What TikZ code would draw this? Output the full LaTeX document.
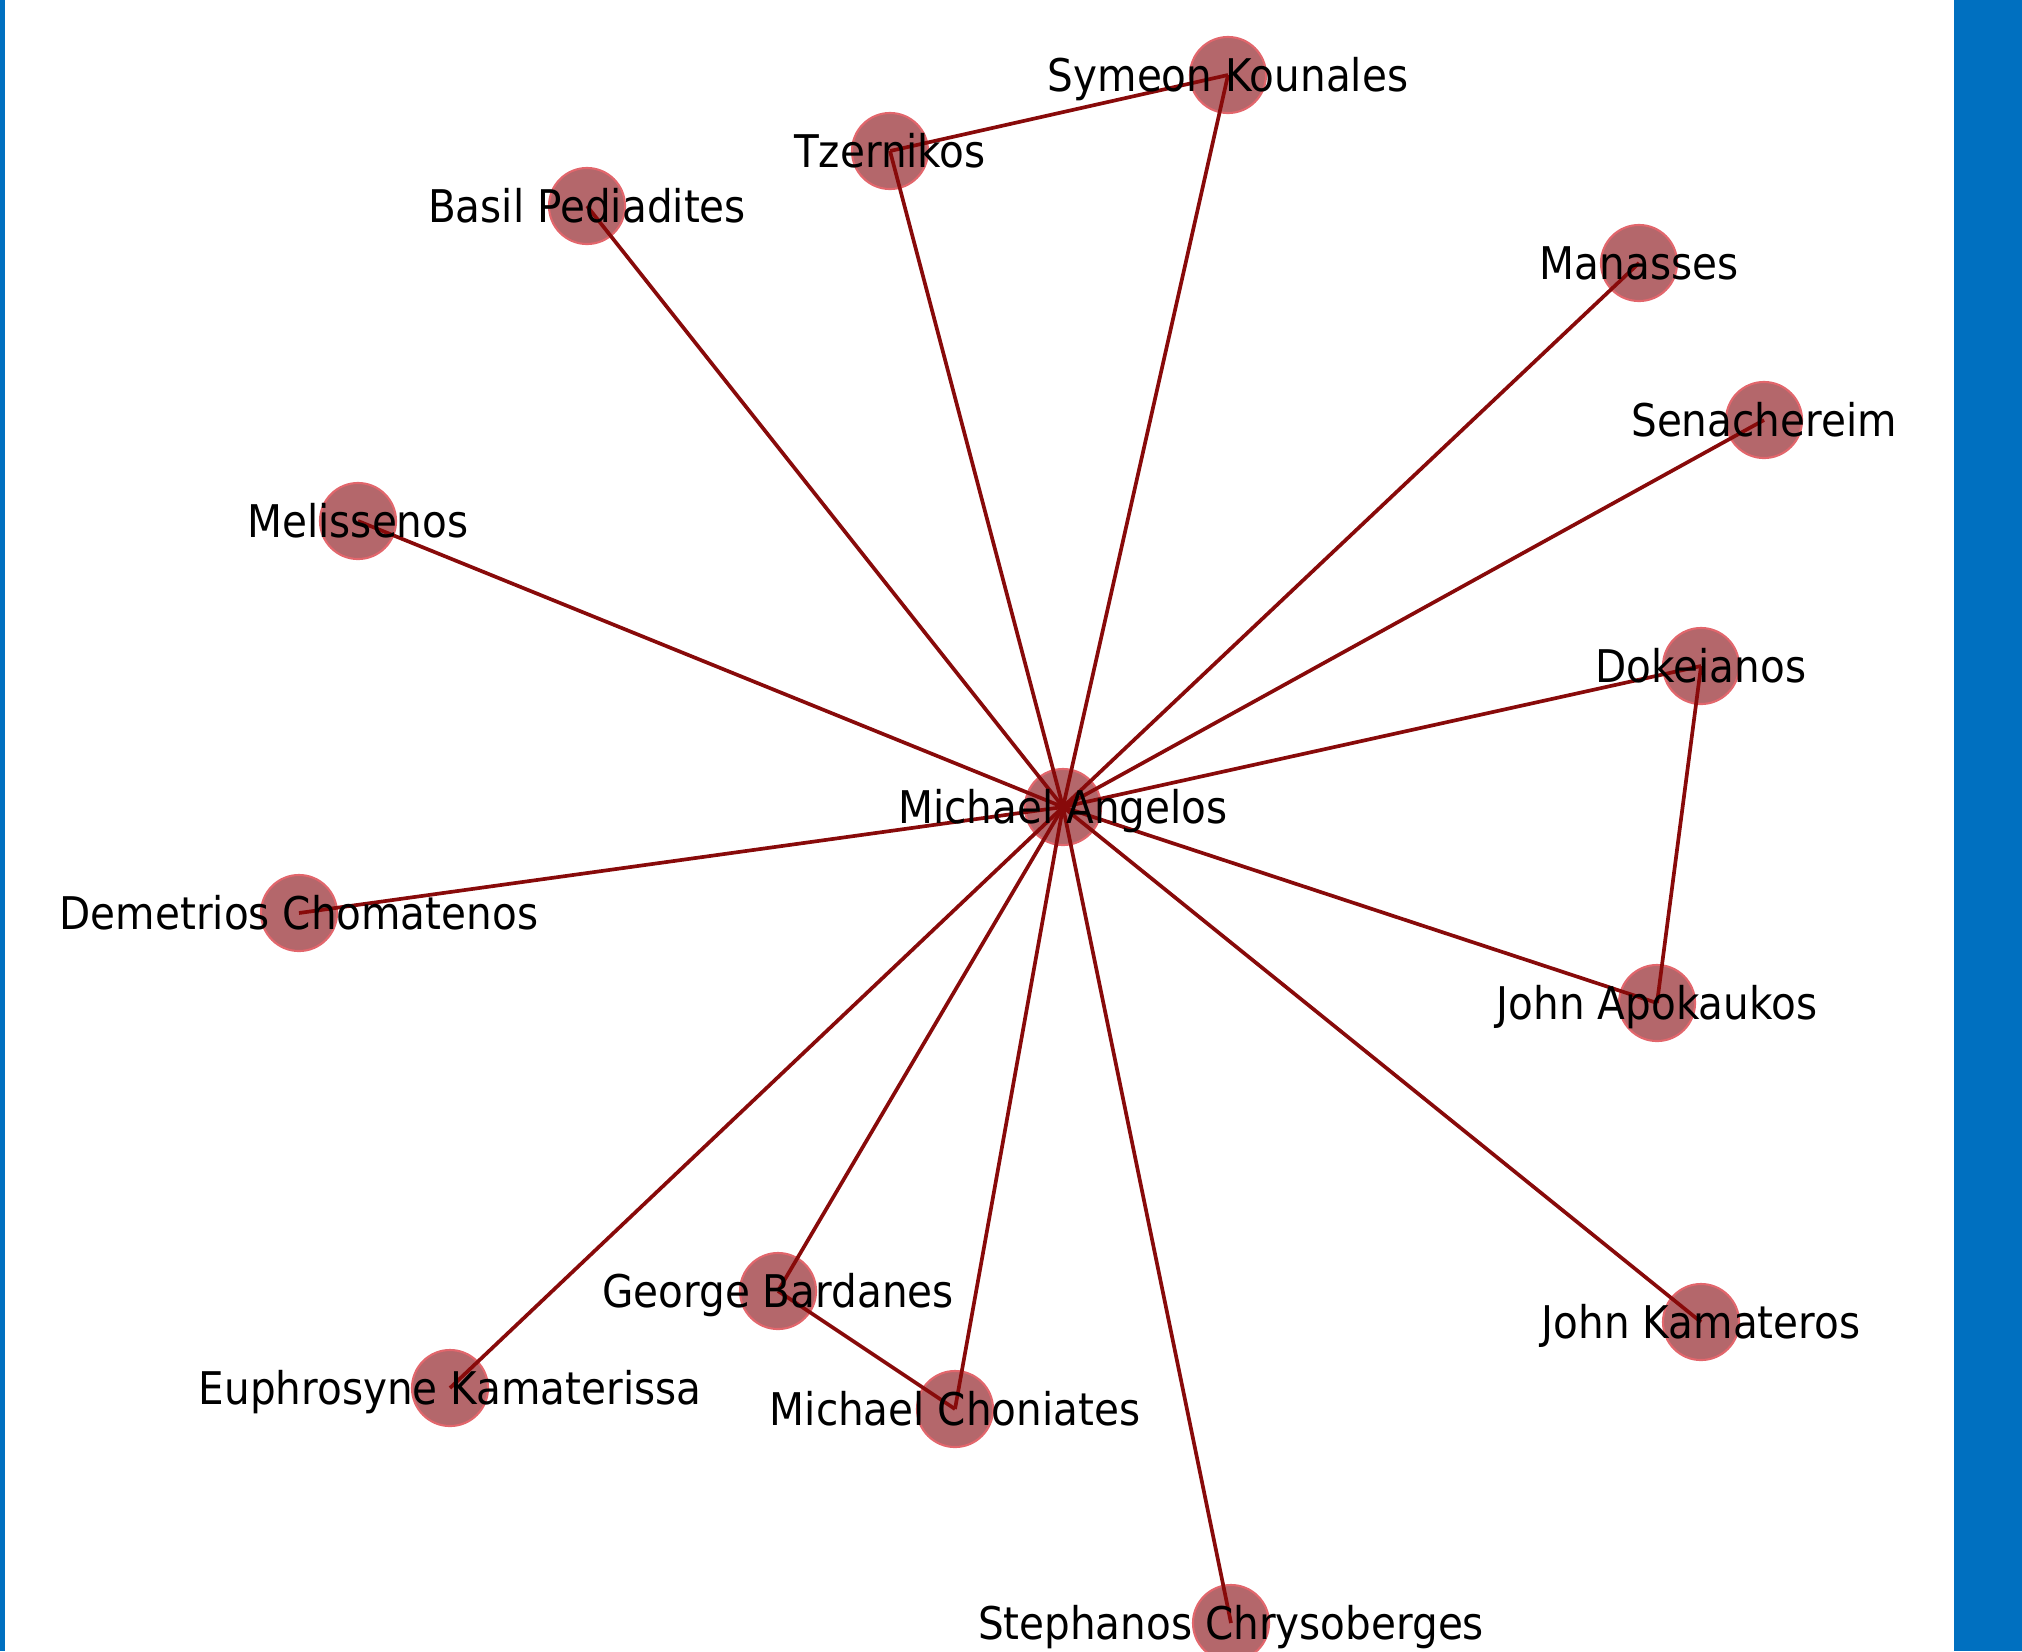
\documentclass[tikz,border=0pt]{standalone}
\usepackage{fontspec}
\setmainfont{DejaVu Sans}[FakeStretch=0.9]
\definecolor{barblue}{HTML}{0070C0}
\definecolor{nodered}{HTML}{B4676B}
\definecolor{rimred}{HTML}{E2666C}
\definecolor{edgered}{HTML}{880A0A}

\begin{document}
\begin{tikzpicture}[x=0.01cm, y=-0.01cm,
  person/.style={circle, fill=nodered, draw=rimred, line width=0.6pt, minimum size=0.76cm, inner sep=0pt},
  who/.style={inner sep=0pt, text height=9.3pt, text depth=0pt, font={\fontsize{12.8}{15}\selectfont}},
  tie/.style={draw=edgered, line width=1.05pt}
]
  \useasboundingbox (0,0) rectangle (2022,1651);
  \fill[barblue] (0,0) rectangle (5,1651);
  \fill[barblue] (1954,0) rectangle (2022,1651);

  \node[person] (angelos) at (1063,807) {};
  \node[person] (kounales) at (1228,75) {};
  \node[person] (tzernikos) at (890,151) {};
  \node[person] (pediadites) at (587,206) {};
  \node[person] (manasses) at (1639,263) {};
  \node[person] (senachereim) at (1764,420) {};
  \node[person] (melissenos) at (358,521) {};
  \node[person] (dokeianos) at (1701,666) {};
  \node[person] (chomatenos) at (299,913) {};
  \node[person] (apokaukos) at (1657,1003) {};
  \node[person] (bardanes) at (778,1291) {};
  \node[person] (kamateros) at (1701,1322) {};
  \node[person] (kamaterissa) at (450,1388) {};
  \node[person] (choniates) at (955,1409) {};
  \node[person] (chrysoberges) at (1231,1623) {};

  \foreach \n in {kounales,tzernikos,pediadites,manasses,senachereim,melissenos,dokeianos,
                  chomatenos,apokaukos,bardanes,kamateros,kamaterissa,choniates,chrysoberges}
    \draw[tie] (angelos.center) -- (\n.center);
  \draw[tie] (tzernikos.center) -- (kounales.center);
  \draw[tie] (dokeianos.center) -- (apokaukos.center);
  \draw[tie] (bardanes.center) -- (choniates.center);

  \node[who] (angelos-t) at (angelos) {Michael Angelos};
  \node[who] (kounales-t) at (kounales) {Symeon Kounales};
  \node[who] (tzernikos-t) at (tzernikos) {Tzernikos};
  \node[who] (pediadites-t) at (pediadites) {Basil Pediadites};
  \node[who] (manasses-t) at (manasses) {Manasses};
  \node[who] (senachereim-t) at (senachereim) {Senachereim};
  \node[who] (melissenos-t) at (melissenos) {Melissenos};
  \node[who] (dokeianos-t) at (dokeianos) {Dokeianos};
  \node[who] (chomatenos-t) at (chomatenos) {Demetrios Chomatenos};
  \node[who] (apokaukos-t) at (apokaukos) {John Apokaukos};
  \node[who] (bardanes-t) at (bardanes) {George Bardanes};
  \node[who] (kamateros-t) at (kamateros) {John Kamateros};
  \node[who] (kamaterissa-t) at (kamaterissa) {Euphrosyne Kamaterissa};
  \node[who] (choniates-t) at (choniates) {Michael Choniates};
  \node[who] (chrysoberges-t) at (chrysoberges) {Stephanos Chrysoberges};
\end{tikzpicture}
\end{document}
